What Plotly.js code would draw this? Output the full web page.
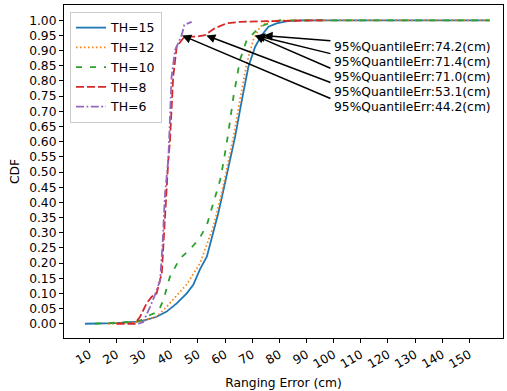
<!DOCTYPE html>
<html>
<head>
<meta charset="utf-8">
<script src="https://cdn.plot.ly/plotly-3.0.1.min.js"></script>
<style>html,body{margin:0;padding:0;background:#fff;}#chart{width:507px;height:391px;}</style>
</head>
<body>
<div id="chart"></div>
<script>
// ---- data ----
const seriesNames = ["TH=15", "TH=12", "TH=10", "TH=8", "TH=6"];

const th15X = [8.4, 20, 27.5, 30, 34.8, 38.5, 42.2, 45.9, 48.3, 50.8, 53.3, 55.7, 57.5, 59.4, 61.2, 63.7, 66.2, 68.6, 71.1, 73.5, 76, 79, 83, 88, 157.5];
const th15Y = [0, 0.002, 0.007, 0.01, 0.023, 0.04, 0.067, 0.10, 0.128, 0.18, 0.221, 0.298, 0.364, 0.44, 0.512, 0.616, 0.737, 0.847, 0.913, 0.951, 0.979, 0.99, 0.997, 1.0, 1.0];

const th12X = [16.9, 25, 30, 35, 38.5, 43.4, 45.9, 50.8, 55.7, 58.8, 61.2, 63.1, 65.5, 68, 70.4, 72.9, 76, 80, 157.5];
const th12Y = [0, 0.003, 0.01, 0.025, 0.056, 0.105, 0.13, 0.199, 0.32, 0.43, 0.535, 0.616, 0.737, 0.858, 0.935, 0.979, 0.995, 1.0, 1.0];

const th10X = [12, 22, 27.5, 30, 32.4, 35.4, 37.3, 39.7, 43.4, 47.1, 50.5, 53.3, 55.7, 58.2, 59.4, 61.2, 63.1, 65.5, 68, 70.4, 72.9, 76.6, 80, 157.5];
const th10Y = [0, 0.003, 0.007, 0.015, 0.029, 0.04, 0.078, 0.155, 0.215, 0.245, 0.28, 0.325, 0.397, 0.474, 0.53, 0.628, 0.748, 0.869, 0.935, 0.957, 0.979, 0.992, 1.0, 1.0];

const th8X = [20, 26.8, 28.7, 31.1, 33, 34.8, 36.7, 37.3, 37.9, 38.5, 39.1, 39.7, 40.3, 40.9, 42.2, 44.6, 47.1, 49.6, 52.6, 54.5, 56.3, 60.6, 65.5, 75, 85, 96];
const th8Y = [0, 0, 0.023, 0.067, 0.089, 0.1, 0.166, 0.265, 0.375, 0.474, 0.539, 0.6, 0.7, 0.814, 0.913, 0.941, 0.946, 0.946, 0.951, 0.962, 0.974, 0.99, 0.995, 0.997, 0.998, 1.0];

const th6X = [28, 29.8, 32.4, 34.2, 36.1, 37, 37.9, 39.1, 39.7, 40.3, 41.6, 44.0, 45.0, 47.7];
const th6Y = [0, 0.005, 0.056, 0.095, 0.144, 0.265, 0.43, 0.539, 0.671, 0.814, 0.902, 0.95, 0.985, 0.995];

const quantileErr = [74.2, 71.4, 71.0, 53.1, 44.2];
const quantileLevel = 0.95;

const xTickVals = [10, 20, 30, 40, 50, 60, 70, 80, 90, 100, 110, 120, 130, 140, 150];
const yTickVals = [0, 0.05, 0.1, 0.15, 0.2, 0.25, 0.3, 0.35, 0.4, 0.45, 0.5, 0.55, 0.6, 0.65, 0.7, 0.75, 0.8, 0.85, 0.9, 0.95, 1.0];

// ---- styles ----
const colors = ["#1f77b4", "#ff7f0e", "#2ca02c", "#d62728", "#9467bd"];
const dashes = ["solid", "1.5px,2.5px", "6px,8px", "8px,3px", "8px,2.5px,1.8px,2.5px"];
const xs = [th15X, th12X, th10X, th8X, th6X];
const ys = [th15Y, th12Y, th10Y, th8Y, th6Y];

const traces = seriesNames.map((n, i) => ({
  x: xs[i], y: ys[i], name: n, mode: "lines", type: "scatter",
  legendgroup: "g" + i,
  line: {color: colors[i], width: 1.8, dash: dashes[i]}
}));

// annotation placement (layout only)
const tailX = 99.4;
const tailY = [0.932, 0.889, 0.840, 0.793, 0.740];
const textY = [0.912, 0.863, 0.814, 0.764, 0.715];

const annotations = [];
quantileErr.forEach((q, i) => {
  annotations.push({
    x: q, y: quantileLevel, xref: "x", yref: "y",
    ax: tailX, ay: tailY[i], axref: "x", ayref: "y",
    text: "", showarrow: true, arrowhead: 2, arrowsize: 1.2, arrowwidth: 1.5,
    arrowcolor: "#000", standoff: 0, startstandoff: 0
  });
  annotations.push({
    x: tailX, y: textY[i], xref: "x", yref: "y",
    text: "95%QuantileErr:" + q.toFixed(1) + "(cm)",
    showarrow: false, xanchor: "left", yanchor: "middle",
    font: {size: 12.3, color: "#000", family: "DejaVu Sans"}
  });
});

const layout = {
  width: 507, height: 391,
  margin: {l: 64, r: 4, t: 5, b: 53},
  paper_bgcolor: "#fff", plot_bgcolor: "#fff",
  font: {family: "DejaVu Sans", size: 12, color: "#000"},
  showlegend: true,
  legend: {
    x: 0.0137, y: 0.979, xanchor: "left", yanchor: "top",
    bgcolor: "rgba(255,255,255,0.85)", bordercolor: "#cccccc", borderwidth: 1,
    font: {size: 12.5, color: "#000"}, tracegroupgap: 0.5
  },
  xaxis: {
    range: [0.68, 162.4], tickmode: "array", tickvals: xTickVals,
    ticktext: xTickVals.map(String), tickangle: -30,
    tickfont: {size: 12.3},
    ticks: "outside", ticklen: 4, tickwidth: 1, tickcolor: "#000",
    showline: true, linecolor: "#000", linewidth: 1, mirror: true,
    showgrid: false, zeroline: false,
    title: {text: "Ranging Error (cm)", font: {size: 12.3}, standoff: 8}
  },
  yaxis: {
    range: [-0.047, 1.0504], tickmode: "array", tickvals: yTickVals,
    ticktext: yTickVals.map(v => v.toFixed(2)),
    tickfont: {size: 12.3},
    ticks: "outside", ticklen: 4, tickwidth: 1, tickcolor: "#000",
    showline: true, linecolor: "#000", linewidth: 1, mirror: true,
    showgrid: false, zeroline: false,
    title: {text: "CDF", font: {size: 12.3}, standoff: 6}
  },
  annotations: annotations
};

Plotly.newPlot("chart", traces, layout, {displayModeBar: false, staticPlot: true});
</script>
</body>
</html>
